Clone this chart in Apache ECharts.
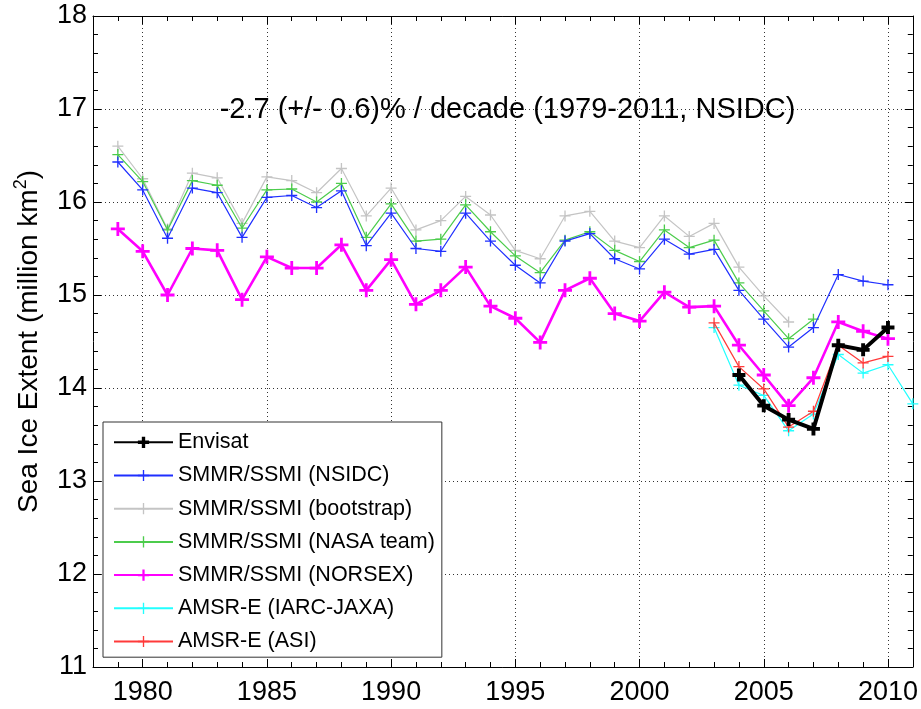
<!DOCTYPE html>
<html><head><meta charset="utf-8">
<script src="https://cdn.jsdelivr.net/npm/echarts/dist/echarts.min.js"></script>
<style>html,body{margin:0;padding:0;background:#fff}#c{width:921px;height:709px}</style>
</head><body><div id="c"></div><script>
// ---- data ----
var yearsSSMI = [1979,1980,1981,1982,1983,1984,1985,1986,1987,1988,1989,1990,1991,1992,1993,1994,1995,1996,1997,1998,1999,2000,2001,2002,2003,2004,2005,2006,2007,2008,2009,2010];
var yearsAMSR = [2003,2004,2005,2006,2007,2008,2009,2010,2011];
var yearsEnvisat = [2004,2005,2006,2007,2008,2009,2010];

var envisat = [14.14,13.81,13.66,13.56,14.46,14.41,14.65];
var nsidc = [16.43,16.13,15.61,16.15,16.10,15.62,16.05,16.07,15.94,16.12,15.53,15.88,15.50,15.47,15.88,15.58,15.32,15.13,15.58,15.66,15.39,15.28,15.60,15.44,15.49,15.05,14.74,14.44,14.65,15.22,15.15,15.11];
var bootstrap = [16.60,16.25,15.71,16.31,16.26,15.77,16.27,16.23,16.10,16.36,15.85,16.15,15.70,15.80,16.06,15.86,15.48,15.39,15.85,15.90,15.58,15.51,15.85,15.63,15.77,15.30,14.99,14.71];
var nasaTeam = [16.51,16.22,15.70,16.23,16.18,15.72,16.13,16.14,16.00,16.20,15.62,15.98,15.58,15.60,15.97,15.68,15.42,15.24,15.59,15.68,15.48,15.36,15.70,15.51,15.59,15.13,14.83,14.53,14.74];
var norsex = [15.71,15.47,15.00,15.50,15.48,14.95,15.41,15.29,15.29,15.54,15.05,15.38,14.90,15.05,15.30,14.88,14.75,14.49,15.05,15.18,14.80,14.72,15.03,14.87,14.88,14.46,14.14,13.81,14.11,14.71,14.61,14.53];
var iarcJaxa = [14.65,14.03,13.92,13.54,13.72,14.36,14.16,14.25,13.83];
var asi = [14.70,14.23,13.99,13.58,13.75,14.46,14.27,14.34];

var xTickLabels = [1980,1985,1990,1995,2000,2005,2010];
var seriesNames = ['Envisat','SMMR/SSMI (NSIDC)','SMMR/SSMI (bootstrap)','SMMR/SSMI (NASA team)','SMMR/SSMI (NORSEX)','AMSR-E (IARC-JAXA)','AMSR-E (ASI)'];
var annotation = '-2.7 (+/- 0.6)% / decade (1979-2011, NSIDC)';
var yName = 'Sea Ice Extent (million km{sup|2})';

// ---- helpers ----
function pairs(years, vals){ return vals.map(function(v,i){ return [years[i], v]; }); }
function plus(a){ return 'path://M-'+a+',-5 L'+a+',-5 L'+a+',-'+a+' L5,-'+a+' L5,'+a+' L'+a+','+a+' L'+a+',5 L-'+a+',5 L-'+a+','+a+' L-5,'+a+' L-5,-'+a+' L-'+a+',-'+a+' Z'; }
var FONT = '"Liberation Sans", Arial, Helvetica, sans-serif';
var thinPlus = plus(0.6), thickPlus = plus(1.0), envPlus = plus(1.5);

function mk(name, years, vals, color, width, sym, size, z){
  return {
    name: name, type: 'line', data: pairs(years, vals), z: z,
    symbol: sym, symbolSize: size, showSymbol: true,
    lineStyle: {color: color, width: width},
    itemStyle: {color: color},
    emphasis: {disabled: true}, animation: false
  };
}

var series = [
  mk(seriesNames[2], yearsSSMI, bootstrap, '#c4c4c4', 1.2, thinPlus, 11, 2),
  mk(seriesNames[3], yearsSSMI, nasaTeam, '#4ccc4c', 1.2, thinPlus, 11, 3),
  mk(seriesNames[1], yearsSSMI, nsidc, '#1f2fff', 1.2, thinPlus, 11, 4),
  mk(seriesNames[4], yearsSSMI, norsex, '#ff00ff', 2.6, thickPlus, 14, 5),
  mk(seriesNames[5], yearsAMSR, iarcJaxa, '#22ffff', 1.2, thinPlus, 11, 6),
  mk(seriesNames[6], yearsAMSR, asi, '#ff3a3a', 1.2, thinPlus, 11, 7),
  mk(seriesNames[0], yearsEnvisat, envisat, '#000000', 4, envPlus, 13, 8)
];

var AX = {color: '#000', width: 1};
// minor (every year) tick axes
function minorX(pos){
  return {type: 'value', position: pos, min: 1978, max: 2011, interval: 1,
    axisLine: {show: true, lineStyle: AX},
    axisTick: {show: true, inside: true, length: 5, lineStyle: AX},
    axisLabel: {show: false}, splitLine: {show: false}};
}
// major (labelled) tick axes: nice ticks 1980..2010
function majorX(pos, labels){
  return {type: 'value', position: pos, min: 1978, max: 2011, splitNumber: 7,
    axisLine: {show: false},
    axisTick: {show: true, inside: true, length: 8, lineStyle: AX},
    axisLabel: labels ? {show: true, margin: 12, fontSize: 27, color: '#000', fontFamily: FONT,
        formatter: function(v){ return xTickLabels.indexOf(v) >= 0 ? String(v) : ''; }} : {show: false},
    splitLine: labels ? {show: true, lineStyle: {type: [1,3], color: '#333', width: 1}} : {show: false}};
}

var chart = echarts.init(document.getElementById('c'), null, {renderer: 'canvas'});
chart.setOption({
  animation: false,
  backgroundColor: '#fff',
  grid: {left: 93, right: 5, top: 16, bottom: 42, containLabel: false},
  xAxis: [minorX('bottom'), majorX('bottom', true), minorX('top'), majorX('top', false)],
  yAxis: [
    {type: 'value', min: 11, max: 18, interval: 1, position: 'left',
     name: yName, nameLocation: 'middle', nameGap: 44, nameRotate: 90,
     nameTextStyle: {fontSize: 28, color: '#000', fontFamily: FONT, lineHeight: 34,
       rich: {sup: {fontSize: 18, fontFamily: FONT, color: '#000', verticalAlign: 'top', lineHeight: 18}}},
     axisLine: {show: true, lineStyle: AX},
     axisTick: {show: true, inside: true, length: 8, lineStyle: AX},
     minorTick: {show: true, splitNumber: 5, length: 5, lineStyle: AX},
     axisLabel: {fontSize: 27, color: '#000', margin: 6, fontFamily: FONT},
     splitLine: {show: true, lineStyle: {type: [1,3], color: '#333', width: 1}}},
    {type: 'value', min: 11, max: 18, interval: 1, position: 'right',
     axisLine: {show: true, lineStyle: AX},
     axisTick: {show: true, inside: true, length: 8, lineStyle: AX},
     minorTick: {show: true, splitNumber: 5, length: 5, lineStyle: AX},
     axisLabel: {show: false}, splitLine: {show: false}}
  ],
  legend: {
    orient: 'vertical', left: 103, top: 422, data: seriesNames,
    itemWidth: 59, itemHeight: 14, itemGap: 11.2, padding: [9.3, 7, 4.7, 10],
    backgroundColor: '#fff', borderColor: '#333', borderWidth: 1, borderRadius: 0,
    selectedMode: false,
    textStyle: {fontSize: 21.5, color: '#000', fontFamily: FONT, lineHeight: 22}
  },
  graphic: [{
    type: 'text', x: 507.5, y: 110, z: 20, silent: true,
    style: {text: annotation, font: '29px ' + FONT, fill: '#000',
      align: 'center', verticalAlign: 'middle', textAlign: 'center', textVerticalAlign: 'middle'}
  }],
  series: series
});
</script></body></html>
